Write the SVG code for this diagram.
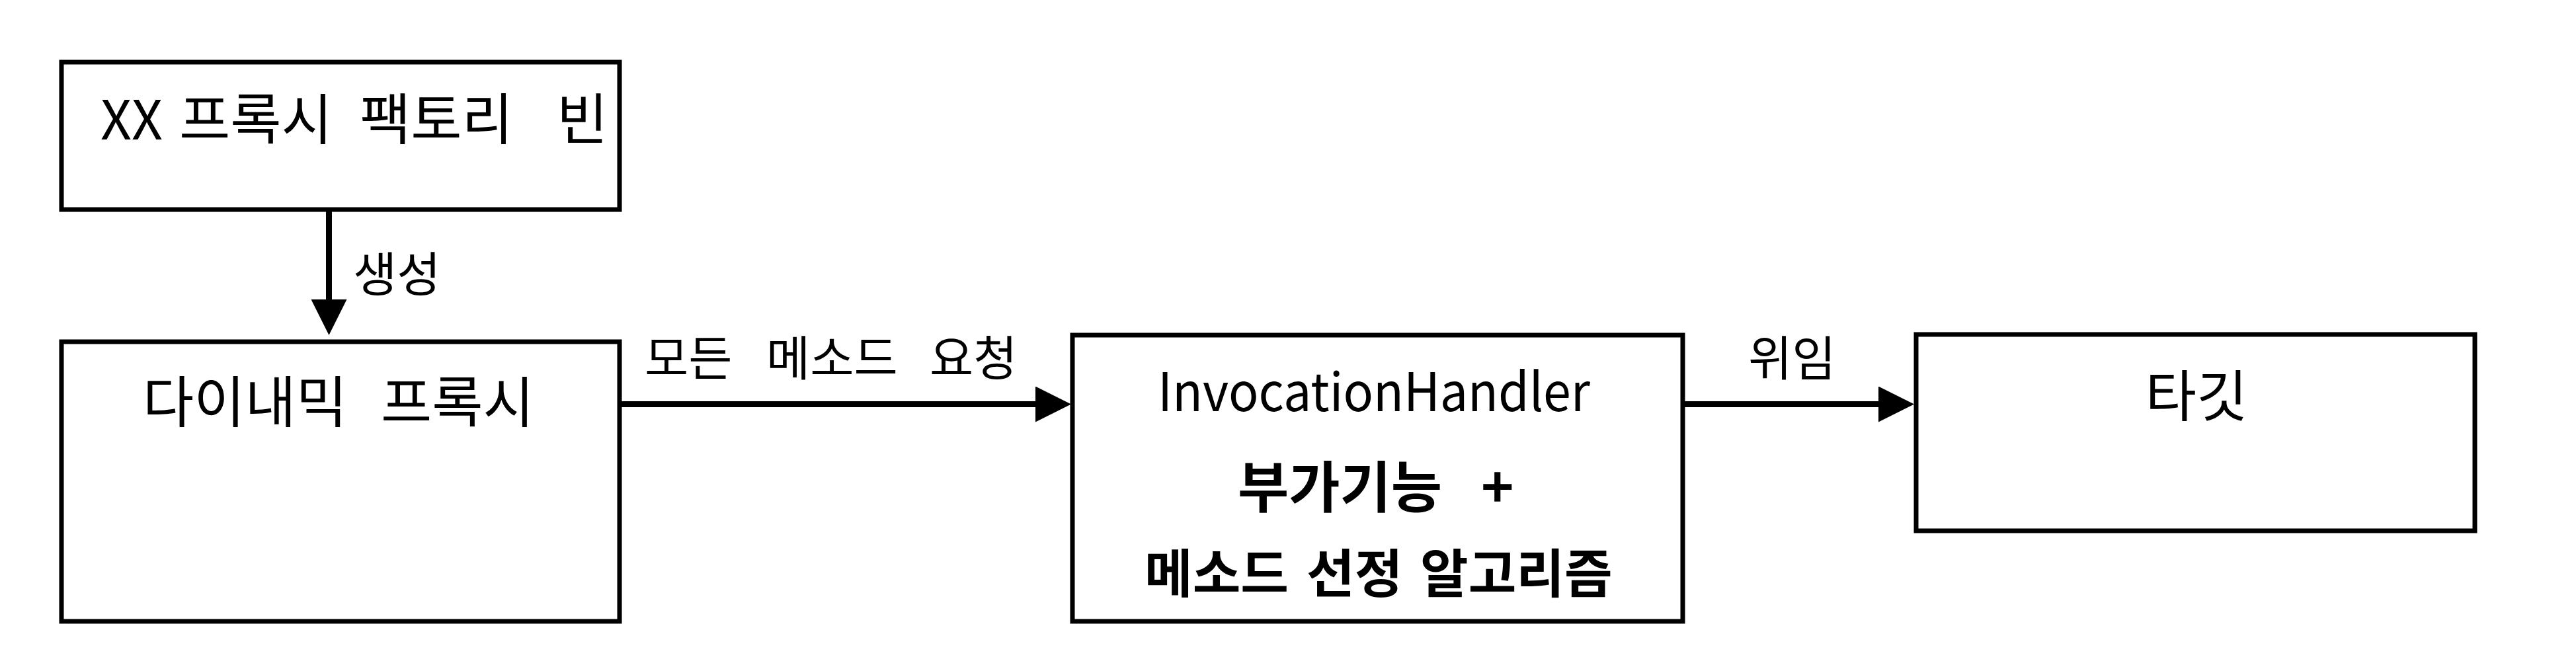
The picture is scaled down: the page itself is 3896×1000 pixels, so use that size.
<svg xmlns="http://www.w3.org/2000/svg" width="3896" height="1000" viewBox="0 0 3896 1000">
  <style>
    .box { fill: #ffffff; stroke: #000000; stroke-width: 7; }
    .conn { stroke: #000000; stroke-width: 9; fill: none; }
    text { font-family: "Noto Sans CJK KR", "Noto Sans", sans-serif; fill: #000000; white-space: pre; }
    .t84 { font-size: 84px; }
    .lbl { font-size: 72px; }
    .bold { font-weight: 700; }
  </style>
  <defs>
    <marker id="arrow" markerUnits="userSpaceOnUse" markerWidth="54" markerHeight="54" viewBox="0 0 54 54" refX="44" refY="27" orient="auto">
      <path d="M0,0 L54,27 L0,54 Z" fill="#000000"/>
    </marker>
  </defs>
  <rect width="3896" height="1000" fill="#ffffff"/>

  <g id="node-factory">
    <rect class="box" x="93" y="94" width="844" height="223"/>
    <text class="t84" y="211"><tspan x="152" style="font-size:82px">XX </tspan><tspan x="271">프록시 </tspan><tspan x="544">팩토리  </tspan><tspan x="842">빈</tspan></text>
  </g>

  <g id="node-proxy">
    <rect class="box" x="93" y="517" width="844" height="423"/>
    <text class="t84" y="639"><tspan x="216">다이내믹 </tspan><tspan x="576">프록시</tspan></text>
  </g>

  <g id="node-handler">
    <rect class="box" x="1622" y="507" width="923" height="433"/>
    <text x="2078" y="622" text-anchor="middle" style="font-size:80px" textLength="654" lengthAdjust="spacingAndGlyphs">InvocationHandler</text>
    <text class="bold" style="font-size:84px" y="768"><tspan x="1872">부가기능 </tspan><tspan x="2240">+</tspan></text>
    <text class="bold" style="font-size:79px" y="897"><tspan x="1731">메소드 </tspan><tspan x="1976">선정 </tspan><tspan x="2148">알고리즘</tspan></text>
  </g>

  <g id="node-target">
    <rect class="box" x="2898" y="506" width="845" height="297"/>
    <text class="t84" x="3322" y="630" text-anchor="middle">타깃</text>
  </g>

  <g id="connectors">
    <line class="conn" x1="497.5" y1="317" x2="497.5" y2="497" marker-end="url(#arrow)"/>
    <text class="lbl" y="441"><tspan x="534">생성</tspan></text>
    <line class="conn" x1="937" y1="611.5" x2="1610" y2="611.5" marker-end="url(#arrow)"/>
    <text class="lbl" y="568"><tspan x="975">모든 </tspan><tspan x="1159">메소드 </tspan><tspan x="1406">요청</tspan></text>
    <line class="conn" x1="2545" y1="611.5" x2="2885" y2="611.5" marker-end="url(#arrow)"/>
    <text class="lbl" y="568"><tspan x="2644">위임</tspan></text>
  </g>
</svg>
